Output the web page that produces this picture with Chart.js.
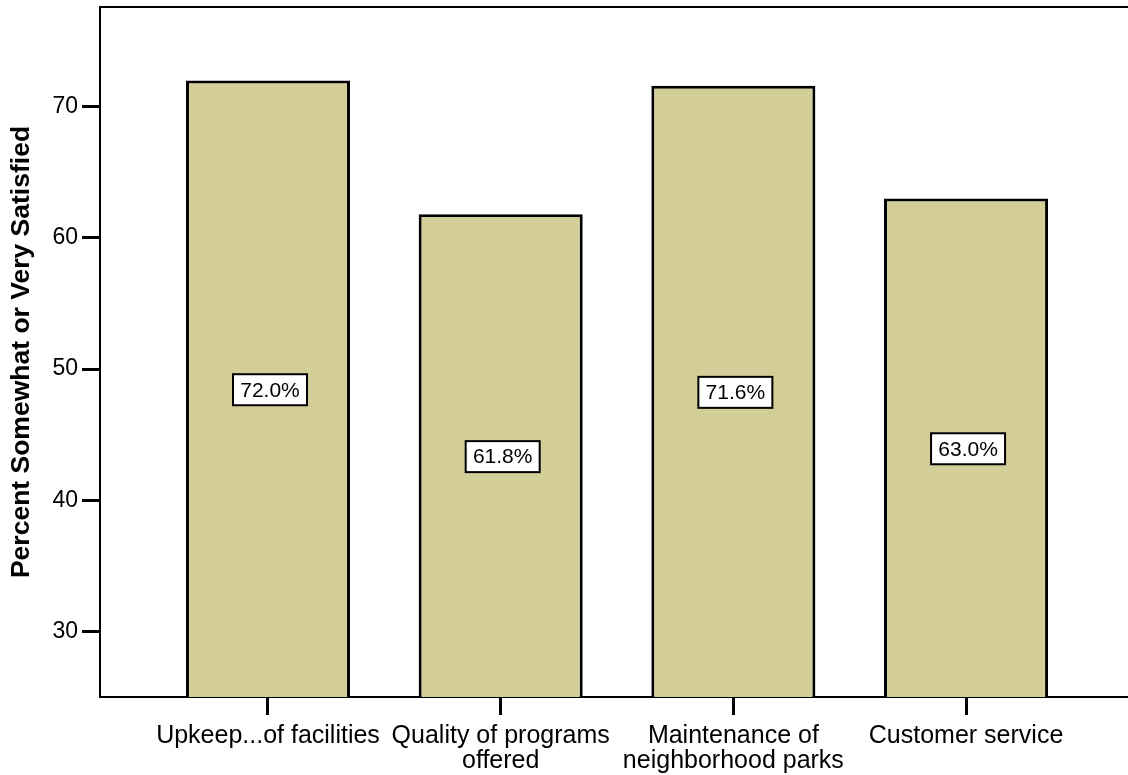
<!DOCTYPE html>
<html>
<head>
<meta charset="utf-8">
<script src="https://cdn.jsdelivr.net/npm/chart.js@4"></script>
<style>
html,body{margin:0;padding:0;background:#fff;overflow:hidden;}
#wrap{width:1128px;height:775px;position:relative;}
</style>
</head>
<body>
<div id="wrap"><canvas id="c" width="1128" height="775"></canvas></div>
<script>
// ---- data ----
const categories = ["Upkeep...of facilities", "Quality of programs offered", "Maintenance of neighborhood parks", "Customer service"];
const tickLabelLines = [["Upkeep...of facilities"], ["Quality of programs", "offered"], ["Maintenance of", "neighborhood parks"], ["Customer service"]];
const percentSatisfied = [72.0, 61.8, 71.6, 63.0];
const yTicks = [30, 40, 50, 60, 70];
const yTitle = "Percent Somewhat or Very Satisfied";

const FONT = "'Liberation Sans', Arial, sans-serif";

const valueBoxPlugin = {
  id: 'valueBoxes',
  afterDatasetsDraw(chart) {
    const ctx = chart.ctx;
    const meta = chart.getDatasetMeta(0);
    const bottom = chart.scales.y.getPixelForValue(chart.scales.y.min);
    ctx.save();
    ctx.font = "21px " + FONT;
    ctx.textAlign = 'center';
    ctx.textBaseline = 'middle';
    meta.data.forEach((bar, i) => {
      const txt = percentSatisfied[i].toFixed(1) + '%';
      const cx = bar.x + 2;
      const cy = (bar.y + bottom) / 2 + 1;
      const w = 74, h = 31;
      ctx.fillStyle = '#fff';
      ctx.fillRect(cx - w / 2, cy - h / 2, w, h);
      ctx.lineWidth = 2;
      ctx.strokeStyle = '#000';
      ctx.strokeRect(cx - w / 2, cy - h / 2, w, h);
      ctx.fillStyle = '#000';
      ctx.fillText(txt, cx, cy + 1);
    });
    ctx.restore();
  }
};

const frameTopPlugin = {
  id: 'frameTop',
  afterDraw(chart) {
    const {ctx, chartArea} = chart;
    ctx.save();
    ctx.strokeStyle = '#000';
    ctx.lineWidth = 2;
    ctx.beginPath();
    ctx.moveTo(chartArea.left - 1, chartArea.top);
    ctx.lineTo(chart.width, chartArea.top);
    ctx.stroke();
    ctx.restore();
  }
};

new Chart(document.getElementById('c'), {
  type: 'bar',
  data: {
    datasets: [{
      label: yTitle,
      data: percentSatisfied.map((v, i) => ({x: i, y: v})),
      backgroundColor: '#D3CE98',
      borderColor: '#000',
      borderWidth: 3,
      categoryPercentage: 1,
      barPercentage: 0.705
    }]
  },
  options: {
    responsive: false,
    animation: false,
    layout: {padding: {top: 7, right: 0, left: 0, bottom: 0}},
    plugins: {legend: {display: false}, tooltip: {enabled: false}},
    scales: {
      x: {
        type: 'linear',
        offset: false,
        min: -0.722,
        max: 3.696,
        afterBuildTicks: (s) => { s.ticks = categories.map((c, i) => ({value: i})); },
        afterFit: (s) => { s.height = 78; s.paddingLeft = 0; s.paddingRight = 0; },
        grid: {offset: false, drawOnChartArea: false, drawTicks: true, tickLength: 18, tickWidth: 3, tickColor: '#000'},
        border: {display: true, color: '#000', width: 2},
        ticks: {
          autoSkip: false, maxRotation: 0, minRotation: 0, padding: 8,
          color: '#000', font: {family: FONT, size: 25, lineHeight: 1.01},
          callback: (v) => tickLabelLines[v]
        }
      },
      y: {
        type: 'linear',
        min: 25,
        max: 77.6,
        afterBuildTicks: (s) => { s.ticks = yTicks.map(v => ({value: v})); },
        afterFit: (s) => { s.width = 100; s.paddingTop = 0; s.paddingBottom = 0; },
        grid: {drawOnChartArea: false, drawTicks: true, tickLength: 18, tickWidth: 3, tickColor: '#000'},
        border: {display: true, color: '#000', width: 2},
        ticks: {padding: 4, color: '#000', font: {family: FONT, size: 23}},
        title: {
          display: true, text: yTitle, color: '#000',
          font: {family: FONT, size: 26.5, weight: 'bold', lineHeight: 1.2},
          padding: {top: 6, bottom: 0}
        }
      }
    }
  },
  plugins: [valueBoxPlugin, frameTopPlugin]
});
</script>
</body>
</html>
